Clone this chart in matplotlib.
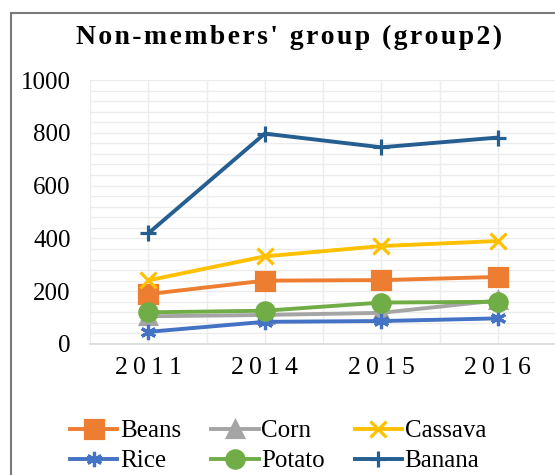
import matplotlib
matplotlib.use("Agg")
import matplotlib.pyplot as plt
from matplotlib.patches import Rectangle

# data
years = ["2011", "2014", "2015", "2016"]
beans = [189, 240, 242, 254]
corn = [105, 110, 118, 165]
cassava = [241, 332, 371, 390]
rice = [46, 84, 87, 97]
potato = [120, 126, 157, 160]
banana = [419, 797, 745, 782]

SERIF = "Liberation Serif"


def spaced(s, gap="\u2009"):
    # imitate the wide character spacing of the original
    return gap.join(list(s))


fig = plt.figure(figsize=(5.55, 4.75), dpi=100)
ax = fig.add_axes([90 / 555, 131 / 475, 466 / 555, 264 / 475])

x = list(range(len(years)))
series = [
    ("Beans", beans, "#ED7D31", "s", 12.5),
    ("Corn", corn, "#A5A5A5", "^", 11),
    ("Cassava", cassava, "#FFC000", "x", 11),
    ("Rice", rice, "#4472C4", (6, 2, 0), 11),
    ("Potato", potato, "#70AD47", "o", 12.5),
    ("Banana", banana, "#255E91", "+", 12),
]
handles = {}
for name, vals, col, mk, ms in series:
    (ln,) = ax.plot(x, vals, color=col, lw=2.8, marker=mk, markersize=ms,
                    markeredgewidth=2.3, markerfacecolor=col, markeredgecolor=col,
                    label=name, zorder=3)
    handles[name] = ln

ax.set_xlim(-0.5, 3.5)
ax.set_ylim(0, 1000)
ax.set_yticks(range(0, 1001, 200))
ax.set_yticks(range(0, 1001, 40), minor=True)
ax.set_xticks(x)
ax.set_xticks([i + 0.5 for i in range(-1, 4)], minor=True)
ax.set_xticklabels([spaced(y) for y in years], fontfamily=SERIF, fontsize=18.5)
ax.set_yticklabels([str(v) for v in range(0, 1001, 200)], fontfamily=SERIF, fontsize=18)
ax.tick_params(which="both", length=0)
ax.tick_params(axis="x", pad=9)
ax.tick_params(axis="y", pad=14)
ax.grid(True, which="both", color="#ececec", lw=1)
ax.set_axisbelow(True)
for side in ["top", "right", "left"]:
    ax.spines[side].set_visible(False)
ax.spines["bottom"].set_color("#d9d9d9")
ax.spines["bottom"].set_linewidth(1.2)

# title with expanded letter spacing
fig.text(289 / 555, 1 - 37 / 475, spaced("Non-members' group (group2)", "\u200a"),
         fontfamily=SERIF, fontweight="bold", fontsize=20, ha="center", va="center")

order = ["Beans", "Rice", "Corn", "Potato", "Cassava", "Banana"]
fig.legend([handles[n] for n in order], order, ncol=3, loc="center",
           bbox_to_anchor=(278 / 555, 1 - 446 / 475), frameon=False,
           prop={"family": SERIF, "size": 18}, handlelength=1.9,
           handletextpad=0.1, columnspacing=1.2, labelspacing=0.3)

# outer chart frame, cut off by the image edge
fig.patches.append(Rectangle((11 / 555, -0.05), 1.0, 1 - 13 / 475 + 0.05,
                             transform=fig.transFigure, fill=False,
                             edgecolor="#7a7a7a", lw=1.5))

fig.savefig("out.png", dpi=100)
